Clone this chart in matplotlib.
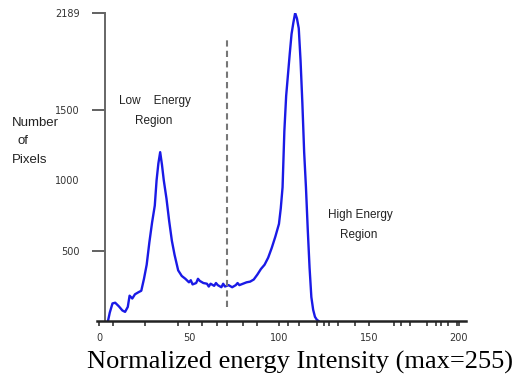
import matplotlib
matplotlib.use('Agg')
import matplotlib.pyplot as plt

# histogram of normalized energy intensity
energy = [5, 6, 7.5, 9, 11, 13, 14.5, 16, 17, 18.5, 20, 22, 23.5, 25, 26.5, 28,
          29.5, 31, 32, 33, 34, 35, 36, 37.5, 39, 40.5, 42, 44, 46, 48, 50, 51,
          52, 54, 55, 56, 58, 60, 61, 62, 64, 65, 66, 68, 69, 70, 72, 74, 76,
          77, 78, 80, 82, 84, 86, 88, 90, 92, 94, 96, 98, 100, 101, 102, 103,
          104, 105, 106, 107, 108, 109, 110, 111, 112, 113, 114, 115, 116, 117,
          118, 119, 120, 121, 122]
pixels = [0, 60, 125, 130, 105, 75, 65, 100, 180, 160, 190, 205, 215, 300, 400,
          560, 700, 820, 1000, 1120, 1200, 1110, 1000, 870, 710, 570, 470, 360,
          320, 300, 275, 290, 260, 270, 300, 285, 270, 265, 245, 265, 250, 270,
          255, 240, 265, 245, 255, 240, 255, 270, 255, 265, 275, 280, 295, 330,
          370, 400, 450, 520, 600, 690, 800, 950, 1350, 1600, 1750, 1900, 2040,
          2120, 2189, 2150, 2080, 1850, 1550, 1200, 950, 650, 380, 170, 80, 30,
          10, 0]

y_ticks = [500, 1000, 1500, 2189]
y_ticklabels = ['500', '1000', '1500', '2189']
x_ticks = [0, 50, 100, 150, 200]
x_minor = [8, 25.5, 44, 57, 65.5, 71, 80, 88, 105, 111, 121, 125, 128, 133,
           142, 164, 168, 173, 182, 187, 190, 194, 199]
split = 71

fig = plt.figure(figsize=(5.16, 3.79), dpi=100)
ax = fig.add_axes([0.188, 0.153, 0.715, 0.8127])

ax.plot(energy, pixels, color='#1a1ae6', lw=1.7)
ax.vlines(split, 100, 2010, colors='#777777', linestyles=(0, (3, 2)), lw=1.5)

ax.set_xlim(-1.1, 203.9)
ax.set_ylim(0, 2189)

for s in ['top', 'right']:
    ax.spines[s].set_visible(False)
ax.spines['left'].set_position(('data', 3.6))
ax.spines['left'].set_color('#666666')
ax.spines['left'].set_linewidth(1.4)
ax.spines['bottom'].set_color('#222222')
ax.spines['bottom'].set_linewidth(1.8)

ax.set_yticks(y_ticks)
ax.set_yticklabels(y_ticklabels)
ax.yaxis.get_major_ticks()[1].tick1line.set_visible(False)
ax.tick_params(axis='y', direction='out', length=9.4, width=1.3,
               color='#555555', pad=9, labelsize=7, labelcolor='#333333')

ax.set_xticks(x_ticks)
ax.set_xticks(x_minor, minor=True)
ax.tick_params(axis='x', which='both', direction='out', length=3.5, width=1.2,
               color='#333333', pad=5, labelsize=7, labelcolor='#333333')

kw = dict(fontsize=8.5, color='#222222', fontfamily='Liberation Sans')
fig.text(155 / 516, 1 - 101 / 379, 'Low    Energy', ha='center', va='center', **kw)
fig.text(154 / 516, 1 - 121 / 379, 'Region', ha='center', va='center', **kw)
fig.text(360 / 516, 1 - 215 / 379, 'High Energy', ha='center', va='center', **kw)
fig.text(359 / 516, 1 - 235 / 379, 'Region', ha='center', va='center', **kw)

lk = dict(fontsize=9.5, color='#222222', fontfamily='Liberation Sans', va='center')
fig.text(12 / 516, 1 - 123 / 379, 'Number', ha='left', **lk)
fig.text(23 / 516, 1 - 141 / 379, 'of', ha='center', **lk)
fig.text(12 / 516, 1 - 160 / 379, 'Pixels', ha='left', **lk)

fig.text(300 / 516, 1 - 362 / 379, 'Normalized energy Intensity (max=255)',
         ha='center', va='center', fontsize=19, fontfamily='Liberation Serif',
         color='black')

fig.savefig('out.png', dpi=100)
